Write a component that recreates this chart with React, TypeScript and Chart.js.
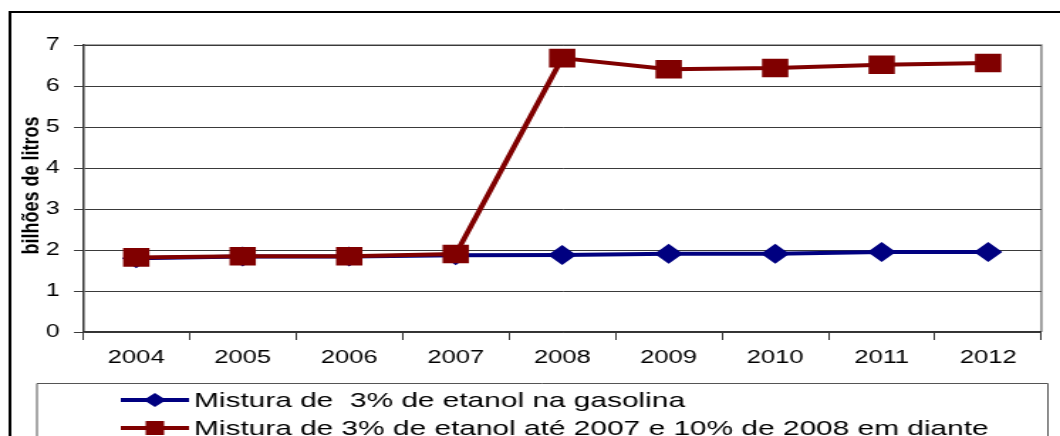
import React, { useEffect, useRef } from "react";
import { Chart, registerables } from "chart.js";

Chart.register(...registerables);

// ---- data ----
const YEARS = ["2004", "2005", "2006", "2007", "2008", "2009", "2010", "2011", "2012"];
const MIX_3 = [1.8, 1.84, 1.84, 1.87, 1.88, 1.91, 1.91, 1.95, 1.95];
const MIX_3_10 = [1.82, 1.85, 1.85, 1.9, 6.68, 6.41, 6.44, 6.52, 6.56];
const LABEL_MIX_3 = "Mistura de  3% de etanol na gasolina";
const LABEL_MIX_3_10 = "Mistura de 3% de etanol até 2007 e 10% de 2008 em diante";
const Y_TITLE = "bilhões de litros";
const Y_MIN = 0;
const Y_MAX = 7;

// ---- layout (internal canvas is stretched horizontally like the reference) ----
const OUT_W = 1060;
const OUT_H = 436;
const INT_W = 746;
const S = OUT_W / INT_W;
const BLUE = "#000080";
const RED = "#800000";

const frame = {
  id: "frame",
  beforeDraw(chart: any) {
    const { ctx, chartArea: a } = chart;
    ctx.save();
    ctx.fillStyle = "#fff";
    ctx.fillRect(0, 0, chart.width, chart.height);
    // outer black box
    ctx.fillStyle = "#000";
    ctx.fillRect(6, 11, chart.width, 2);
    ctx.fillRect(6, 11, 2, chart.height);
    // plot area border (top/right gray)
    ctx.strokeStyle = "#888";
    ctx.lineWidth = 1.5;
    ctx.beginPath();
    ctx.moveTo(a.left, a.top);
    ctx.lineTo(a.right, a.top);
    ctx.lineTo(a.right, a.bottom);
    ctx.stroke();
    ctx.restore();
  },
  afterDraw(chart: any) {
    const { ctx, chartArea: a } = chart;
    ctx.save();
    // y axis title
    ctx.translate(22, (a.top + a.bottom) / 2 - 3);
    ctx.scale(1.3 / S, 1);
    ctx.rotate(-Math.PI / 2);
    ctx.font = "bold 18px 'Liberation Sans', Arial, sans-serif";
    ctx.fillStyle = "#000";
    ctx.textAlign = "center";
    ctx.textBaseline = "middle";
    ctx.fillText(Y_TITLE, 0, 0);
    ctx.restore();

    // legend box
    ctx.save();
    ctx.strokeStyle = "#555";
    ctx.lineWidth = 1;
    ctx.beginPath();
    ctx.moveTo(26, chart.height + 5);
    ctx.lineTo(26, 383.5);
    ctx.lineTo(737.5, 383.5);
    ctx.lineTo(737.5, chart.height + 5);
    ctx.stroke();

    const items = [
      { ds: chart.data.datasets[0], y: 400, kind: "diamond" },
      { ds: chart.data.datasets[1], y: 428, kind: "square" },
    ];
    for (const it of items) {
      const col = it.ds.borderColor;
      ctx.strokeStyle = col;
      ctx.lineWidth = 4;
      ctx.beginPath();
      ctx.moveTo(85, it.y);
      ctx.lineTo(133, it.y);
      ctx.stroke();
      ctx.fillStyle = col;
      if (it.kind === "diamond") {
        ctx.beginPath();
        ctx.moveTo(109 - 8, it.y);
        ctx.lineTo(109, it.y - 7);
        ctx.lineTo(109 + 8, it.y);
        ctx.lineTo(109, it.y + 7);
        ctx.closePath();
        ctx.fill();
      } else {
        ctx.fillRect(109 - 6.5, it.y - 7, 13, 14);
      }
      ctx.fillStyle = "#000";
      ctx.font = "21px 'Liberation Sans', Arial, sans-serif";
      ctx.textAlign = "left";
      ctx.textBaseline = "middle";
      ctx.fillText(it.ds.label, 136.5, it.y + 1);
    }
    ctx.restore();
  },
};

export default function App() {
  const ref = useRef<HTMLCanvasElement>(null);
  useEffect(() => {
    if (!ref.current) return;
    const chart = new Chart(ref.current, {
      type: "line",
      data: {
        labels: YEARS,
        datasets: [
          {
            label: LABEL_MIX_3,
            data: MIX_3,
            borderColor: BLUE,
            backgroundColor: BLUE,
            borderWidth: 4,
            pointStyle: "rectRot",
            pointRadius: 10,
            pointBorderWidth: 0,
            tension: 0,
            order: 1,
          },
          {
            label: LABEL_MIX_3_10,
            data: MIX_3_10,
            borderColor: RED,
            backgroundColor: RED,
            borderWidth: 4,
            pointStyle: "rect",
            pointRadius: 13.1,
            pointBorderWidth: 0,
            tension: 0,
            order: 0,
          },
        ],
      },
      options: {
        responsive: false,
        maintainAspectRatio: false,
        devicePixelRatio: 1,
        animation: false,
        layout: { padding: { left: 0, right: INT_W - 734, top: 45, bottom: 54 } },
        plugins: { legend: { display: false }, tooltip: { enabled: false } },
        scales: {
          x: {
            offset: true,
            afterFit: (s: any) => {
              s.height = 50;
            },
            grid: {
              offset: true,
              drawOnChartArea: false,
              drawTicks: true,
              tickLength: 8,
              color: "#333",
              lineWidth: 1,
            },
            border: { color: "#333", width: 1.5 },
            ticks: {
              color: "#000",
              padding: 7,
              maxRotation: 0,
              font: { family: "'Liberation Sans', Arial, sans-serif", size: 18 },
            },
          },
          y: {
            min: Y_MIN,
            max: Y_MAX,
            afterFit: (s: any) => {
              s.width = 58.4;
            },
            grid: {
              drawTicks: true,
              tickLength: 6.4,
              color: "#3a3a3a",
              lineWidth: 1,
            },
            border: { color: "#333", width: 1.5 },
            ticks: {
              stepSize: 1,
              color: "#000",
              padding: 10,
              font: { family: "'Liberation Sans', Arial, sans-serif", size: 17.5 },
            },
          },
        },
      },
      plugins: [frame],
    });
    return () => chart.destroy();
  }, []);
  return (
    <div style={{ position: "absolute", left: 0, top: 0, width: OUT_W, height: OUT_H, background: "#fff" }}>
      <canvas
        ref={ref}
        width={INT_W}
        height={OUT_H}
        style={{ display: "block", width: OUT_W + "px", height: OUT_H + "px" }}
      />
    </div>
  );
}
